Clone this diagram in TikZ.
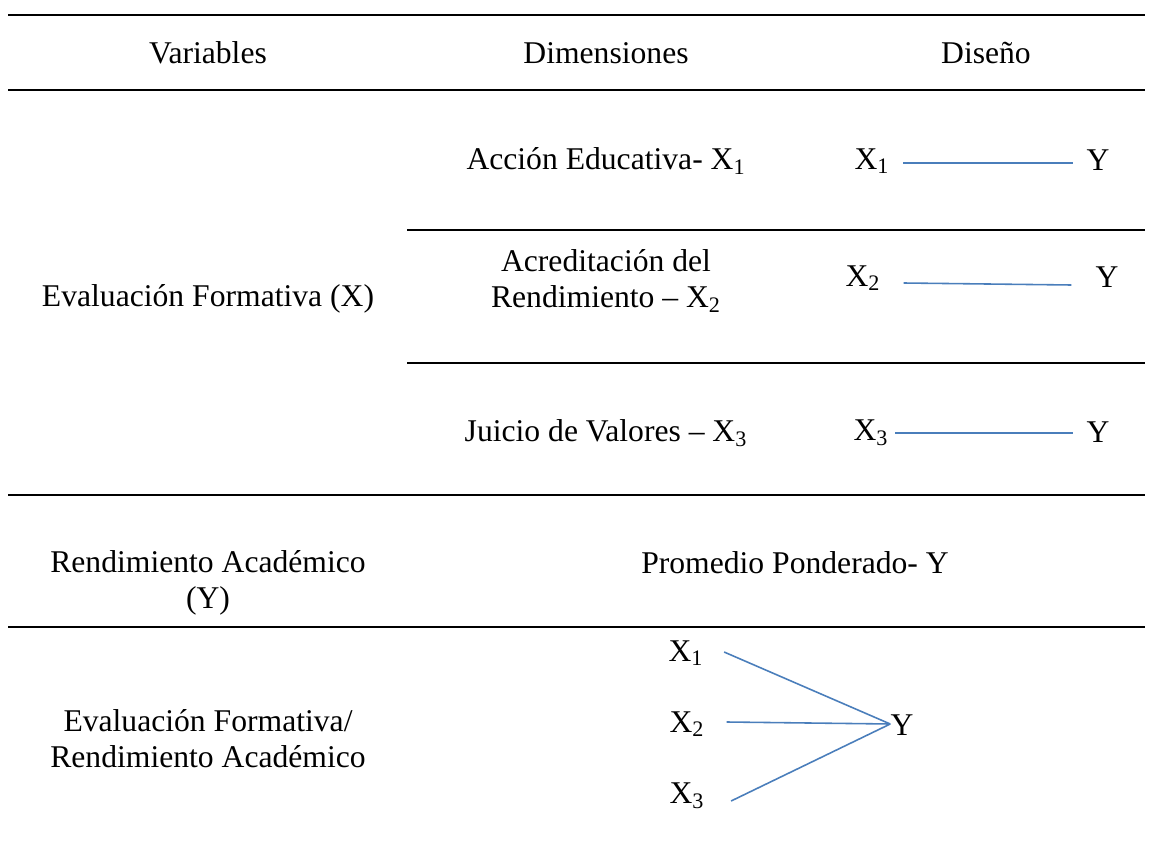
\documentclass[tikz,border=0pt]{standalone}
\usepackage{fontspec}
\setmainfont{Liberation Serif}
\definecolor{linkblue}{HTML}{4A7EBB}
\tikzset{
  rule/.style={line width=1.4pt},
  link/.style={draw=linkblue, line width=0.9pt},
  cell/.style={align=center}
}
\begin{document}
\begin{tikzpicture}[x=0.2mm,y=-0.2mm,font=\fontsize{18}{20.5}\selectfont]
\useasboundingbox (0,0) rectangle (1150,847);

% rules
\foreach \y in {15,90,495,627}
{
  \draw[rule] (8,\y) -- (1145,\y);
}
\draw[rule] (407,230) -- (1145,230);
\draw[rule] (407,363) -- (1145,363);

% header
\node[cell] (hvar) at (208,53) {Variables};
\node[cell] (hdim) at (606,53) {Dimensiones};
\node[cell] (hdis) at (986,53) {Diseño};

% first variable
\node[cell] (vx) at (208,299) {Evaluación Formativa (X)};

\node[cell] (d1) at (606,161) {Acción Educativa- X\textsubscript{1}};
\node[cell] (d2) at (606,281) {Acreditación del\\Rendimiento -- X\textsubscript{2}};
\node[cell] (d3) at (606,433) {Juicio de Valores -- X\textsubscript{3}};

\node (x1) at (872,161) {X\textsubscript{1}};
\node (y1) at (1098,160) {Y};
\node (x2) at (863,278) {X\textsubscript{2}};
\node (y2) at (1107,277) {Y};
\node (x3) at (871,433) {X\textsubscript{3}};
\node (y3) at (1098,432) {Y};

\draw[link] ([xshift=1.5mm]x1.east |- 0,163) -- ([xshift=-1.5mm]y1.west |- 0,163);
\draw[link] ([xshift=3.4mm]x2.east |- 0,283) -- ([xshift=-3.6mm]y2.west |- 0,285);
\draw[link] ([xshift=0.1mm]x3.east |- 0,433) -- ([xshift=-1.5mm]y3.west |- 0,433);

% second variable
\node[cell] (vy) at (208,583) {Rendimiento Académico\\(Y)};
\node[cell] (dy) at (795,563) {Promedio Ponderado- Y};

% relation
\node[cell] (vxy) at (208,739) {Evaluación Formativa/\\Rendimiento Académico};

\node (fx1) at (686,653) {X\textsubscript{1}};
\node (fx2) at (687,724) {X\textsubscript{2}};
\node (fx3) at (687,796) {X\textsubscript{3}};
\node[inner sep=0pt] (fy) at (902,725) {Y};

\draw[link] ([xshift=2.9mm]fx1.east |- 0,652) -- (fy.west |- 0,724);
\draw[link] ([xshift=3.2mm]fx2.east |- 0,722) -- (fy.west |- 0,724);
\draw[link] ([xshift=4.1mm]fx3.east |- 0,801) -- (fy.west |- 0,724);

\end{tikzpicture}
\end{document}
